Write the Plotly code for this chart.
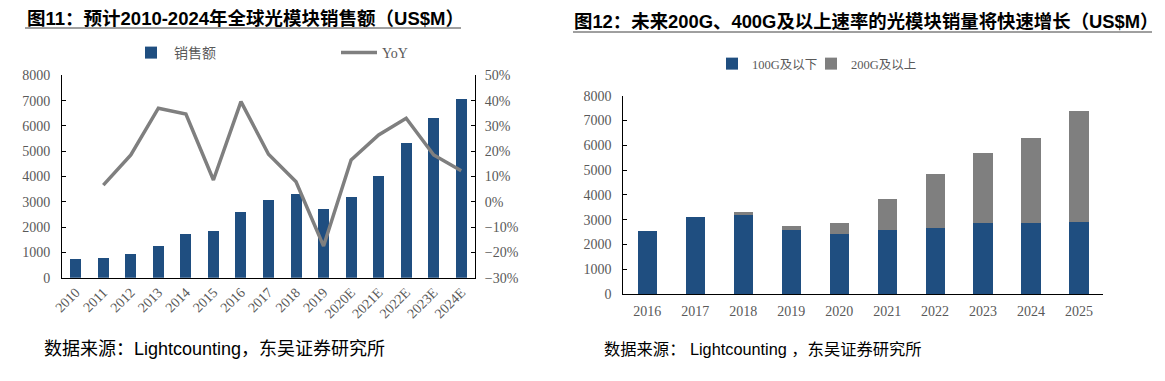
import plotly.graph_objects as go

# ---- Chart 1 data ----
years1 = ["2010", "2011", "2012", "2013", "2014", "2015", "2016", "2017", "2018", "2019",
          "2020E", "2021E", "2022E", "2023E", "2024E"]
sales = [730, 770, 925, 1265, 1715, 1845, 2585, 3070, 3310, 2730, 3180, 4010, 5310, 6300, 7075]
yoy = [None, 6.6, 18.5, 37.0, 34.7, 8.6, 39.6, 18.8, 7.9, -17.5, 16.5, 26.4, 33.0, 18.5, 12.3]

# ---- Chart 2 data ----
years2 = ["2016", "2017", "2018", "2019", "2020", "2021", "2022", "2023", "2024", "2025"]
low_speed = [2540, 3105, 3200, 2595, 2435, 2595, 2675, 2875, 2875, 2915]
high_speed = [0, 0, 95, 150, 440, 1235, 2175, 2800, 3400, 4450]

BLUE = "#1F4E80"
GRAY = "#7F7F7F"
TICK = "#595959"
SERIF = "Liberation Serif, Times New Roman, Noto Sans CJK SC"
W, H = 1165, 381


def px(x):
    return x / W


def py(y):
    return 1 - y / H


fig = go.Figure()

fig.add_trace(go.Bar(x=years1, y=sales, name="销售额", marker=dict(color=BLUE, line=dict(width=0)),
                     xaxis="x", yaxis="y", legend="legend"))
fig.add_trace(go.Scatter(x=years1, y=yoy, name="YoY", mode="lines", line=dict(color=GRAY, width=3.5),
                         xaxis="x", yaxis="y2", legend="legend"))

fig.add_trace(go.Bar(x=years2, y=low_speed, name="100G及以下", marker=dict(color=BLUE, line=dict(width=0)),
                     xaxis="x2", yaxis="y3", legend="legend2"))
fig.add_trace(go.Bar(x=years2, y=high_speed, name="200G及以上", marker=dict(color=GRAY, line=dict(width=0)),
                     xaxis="x2", yaxis="y3", legend="legend3"))

axis_common = dict(showgrid=False, zeroline=False, showline=True, linecolor="#000000", linewidth=1,
                   automargin=False, tickfont=dict(family=SERIF, size=14, color=TICK))

legend2_common = dict(orientation="h", y=py(49), xanchor="left", yanchor="top", itemwidth=30,
                      font=dict(family=SERIF, size=12.5, color=TICK), bgcolor="rgba(0,0,0,0)")

fig.update_layout(
    width=W, height=H,
    paper_bgcolor="white", plot_bgcolor="white",
    margin=dict(l=0, r=0, t=0, b=0, autoexpand=False),
    barmode="stack", bargap=0.6,
    xaxis=dict(domain=[px(62), px(475)], anchor="y", ticks="", tickangle=-45, **axis_common),
    yaxis=dict(domain=[py(277.7), py(75.3)], anchor="x", range=[0, 8000], dtick=1000,
               ticks="inside", ticklen=4, tickcolor="#000000", ticklabelstandoff=8, **axis_common),
    yaxis2=dict(overlaying="y", anchor="x", side="right", range=[-30, 50], dtick=10, ticksuffix="%",
                ticks="inside", ticklen=4, tickcolor="#000000", ticklabelstandoff=6, **axis_common),
    xaxis2=dict(domain=[px(623.3), px(1103)], anchor="y3", ticks="", ticklabelstandoff=4, **axis_common),
    yaxis3=dict(domain=[py(294), py(95.7)], anchor="x2", range=[0, 8000], dtick=1000,
                ticks="inside", ticklen=4, tickcolor="#000000", ticklabelstandoff=8, **axis_common),
    legend=dict(orientation="h", x=px(128), y=py(37), xanchor="left", yanchor="top",
                traceorder="normal",
                entrywidthmode="pixels", entrywidth=157, itemwidth=36,
                font=dict(family=SERIF, size=14, color=TICK), bgcolor="rgba(0,0,0,0)"),
    legend2=dict(x=px(712), **legend2_common),
    legend3=dict(x=px(811), **legend2_common),
    showlegend=True,
)

title_font = dict(family="Liberation Sans, Noto Sans CJK SC", size=18.5, color="#000000")
note_font1 = dict(family="Liberation Sans, Noto Sans CJK SC", size=18, color="#000000")
note_font2 = dict(family="Liberation Sans, Noto Sans CJK SC", size=16.3, color="#000000")

fig.add_annotation(text="<b>图11：预计2010-2024年全球光模块销售额（US$M）</b>", x=px(25), y=py(18),
                   xref="paper", yref="paper", xanchor="left", yanchor="middle", showarrow=False,
                   font=title_font)
fig.add_annotation(text="<b>图12：未来200G、400G及以上速率的光模块销量将快速增长（US$M）</b>", x=px(572), y=py(21),
                   xref="paper", yref="paper", xanchor="left", yanchor="middle", showarrow=False,
                   font=dict(family="Liberation Sans, Noto Sans CJK SC", size=18.4, color="#000000"))
fig.add_annotation(text="数据来源：Lightcounting，东吴证券研究所", x=px(42), y=py(349),
                   xref="paper", yref="paper", xanchor="left", yanchor="middle", showarrow=False,
                   font=note_font1)
fig.add_annotation(text="数据来源： Lightcounting ，东吴证券研究所", x=px(602), y=py(349),
                   xref="paper", yref="paper", xanchor="left", yanchor="middle", showarrow=False,
                   font=note_font2)

fig.add_shape(type="line", xref="paper", yref="paper", x0=px(25), x1=px(461), y0=py(28), y1=py(28),
              line=dict(color="#404040", width=1))
fig.add_shape(type="line", xref="paper", yref="paper", x0=px(573), x1=px(1152), y0=py(32), y1=py(32),
              line=dict(color="#404040", width=1))

fig.write_html("out.html", config={"displayModeBar": False},
               post_script="document.body.style.margin='0';document.body.style.overflow='hidden';")
